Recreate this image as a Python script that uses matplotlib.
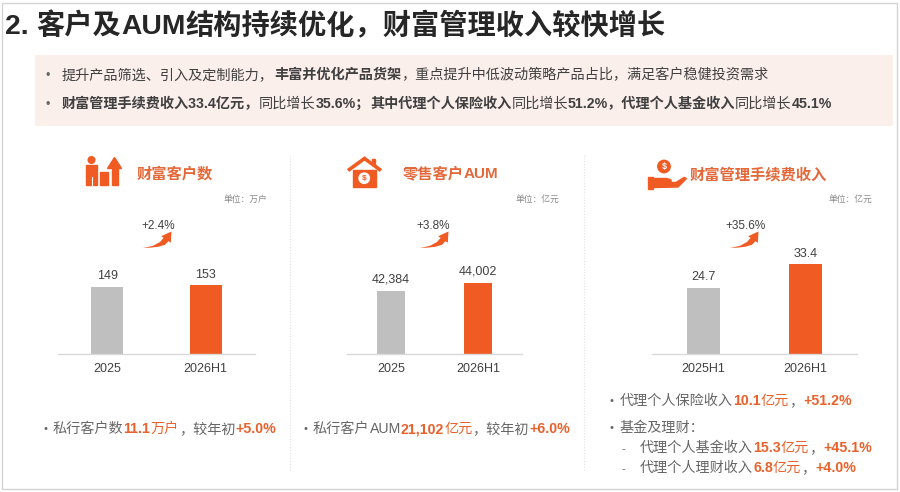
import matplotlib
matplotlib.use("Agg")
import matplotlib.pyplot as plt
from matplotlib.patches import Rectangle, Circle, Polygon

# ---- data ----
clients_labels = ["2025", "2026H1"]
clients_values = [149, 153]
clients_growth = "+2.4%"

aum_labels = ["2025", "2026H1"]
aum_values = [42384, 44002]
aum_growth = "+3.8%"

fee_labels = ["2025H1", "2026H1"]
fee_values = [24.7, 33.4]
fee_growth = "+35.6%"

W, H = 900, 492
FONT = ["Liberation Sans", "Noto Sans CJK SC", "DejaVu Sans"]
ORANGE = "#F05A23"
HEAD_ORANGE = "#E4693A"
NUM_ORANGE = "#E8622D"
GRAY_BAR = "#BFBFBF"
TXT = "#404040"
SOFT = "#666666"

fig = plt.figure(figsize=(W / 100, H / 100), dpi=100)
bg = fig.add_axes([0, 0, 1, 1])
bg.set_xlim(0, W)
bg.set_ylim(H, 0)
bg.axis("off")
renderer = fig.canvas.get_renderer()


def rich(x, y, parts, size):
    """Draw (text, colour, weight) pieces one after another on a baseline."""
    for text, color, weight in parts:
        t = bg.text(x, y, text, fontsize=size, color=color, fontweight=weight,
                    family=FONT, ha="left", va="baseline")
        x += t.get_window_extent(renderer=renderer).width
    return x


# frame and title
bg.add_patch(Rectangle((1.5, 2.5), 895.5, 486, fill=False, ec="#d4d4d4", lw=1))
rich(5, 34, [("2. ", "#262626", "bold"), ("客户及", "#262626", "bold"),
             ("AUM", "#262626", "bold"),
             ("结构持续优化，财富管理收入较快增长", "#262626", "bold")], 20.3)

# pink summary box
bg.add_patch(Rectangle((35, 55), 858, 71, fc="#fbefec", ec="none"))
bg.text(45, 79, "•", fontsize=9, color=SOFT, family=FONT, va="baseline")
rich(62, 79, [("提升产品筛选、引入及定制能力，", TXT, "normal"),
              ("丰富并优化产品货架", TXT, "bold"),
              ("，重点提升中低波动策略产品占比，满足客户稳健投资需求", TXT, "normal")], 10.2)
bg.text(45, 108, "•", fontsize=9, color=SOFT, family=FONT, va="baseline")
rich(62, 108, [("财富管理手续费收入33.4亿元，", TXT, "bold"),
               ("同比增长", TXT, "normal"), ("35.6%；", TXT, "bold"),
               ("其中代理个人保险收入", TXT, "bold"), ("同比增长", TXT, "normal"),
               ("51.2%，代理个人基金收入", TXT, "bold"), ("同比增长", TXT, "normal"),
               ("45.1%", TXT, "bold")], 10.2)

# panel separators
for xs in (290, 584):
    bg.plot([xs, xs], [155, 470], color="#e2e2e2", lw=0.8, ls=(0, (1, 1.5)))

# ---- icons ----
# people + bars + arrow
bg.add_patch(Circle((91.5, 160), 3.3, color=ORANGE))
bg.add_patch(Rectangle((86, 164.5), 11, 20.5, color=ORANGE))
bg.plot([91.5, 91.5], [177, 185], color="white", lw=0.8)
bg.add_patch(Rectangle((100, 172), 7.5, 13, color=ORANGE))
bg.add_patch(Rectangle((111.5, 167.5), 6.5, 17.5, color=ORANGE))
bg.add_patch(Polygon([(107.5, 168.5), (121.5, 168.5), (114.5, 157.5)], color=ORANGE))
# house with coin
bg.plot([348, 364.5, 381], [170.5, 158.5, 170.5], color=ORANGE, lw=2.6,
        solid_capstyle="butt", solid_joinstyle="miter")
bg.add_patch(Rectangle((372, 159), 3, 6, color=ORANGE))
bg.add_patch(Rectangle((352.5, 170), 23.5, 16.5, color=ORANGE))
bg.add_patch(Circle((364.2, 178.2), 5.2, color="white"))
bg.text(364.2, 178.4, "$", fontsize=6, color=ORANGE, fontweight="bold",
        family=FONT, ha="center", va="center")
# hand with coin
bg.add_patch(Circle((664, 166.5), 6.2, color=ORANGE))
bg.text(664, 166.8, "$", fontsize=6.5, color="white", fontweight="bold",
        family=FONT, ha="center", va="center")
bg.add_patch(Rectangle((647.5, 177), 5.5, 11.5, color=ORANGE))
bg.add_patch(Polygon([(654.5, 178.5), (667, 178.5), (671, 180), (671, 182),
                      (664, 182.5), (676, 182.5), (684, 177.5), (686.5, 178.5),
                      (678, 187), (654.5, 187.5)], color=ORANGE))

# panel headings and units
rich(137, 178.5, [("财富客户数", HEAD_ORANGE, "bold")], 11)
rich(403, 178.5, [("零售客户", HEAD_ORANGE, "bold"), ("AUM", HEAD_ORANGE, "bold")], 11)
rich(690, 179.5, [("财富管理手续费收入", HEAD_ORANGE, "bold")], 11)
for xr, unit in ((267, "单位：万户"), (559, "单位：亿元"), (872, "单位：亿元")):
    bg.text(xr, 202, unit, fontsize=6.3, color="#8a8a8a", family=FONT,
            ha="right", va="baseline")


def swoosh(x0, yb):
    pts = [(0, 0), (8, -0.4), (15, -1.2), (22, -3.2), (25.4, -6.85), (27.8, -5.2),
           (28.5, -16.5), (18.2, -11.8), (20.6, -10.15), (17, -6), (10, -2.2)]
    bg.add_patch(Polygon([(x0 + dx, yb + dy) for dx, dy in pts], color=ORANGE, lw=0))


for xc, x0, g in ((158, 143, clients_growth), (433, 420, aum_growth), (746, 730, fee_growth)):
    bg.text(xc, 229, g, fontsize=8.5, color=TXT, family=FONT, ha="center", va="baseline")
    swoosh(x0, 248)

# ---- bar panels ----
BASE_Y = 354.3
AX_H = 130


def bar_panel(left, right, labels, values, ymin, k, fmt):
    ax = fig.add_axes([left / W, (H - BASE_Y) / H, (right - left) / W, AX_H / H])
    ax.patch.set_alpha(0)
    xs = range(len(values))
    ax.bar(xs, values, width=0.32, color=[GRAY_BAR, ORANGE])
    ax.set_xlim(-0.5, 1.5)
    ax.set_ylim(ymin, ymin + AX_H / k)
    for s in ("top", "left", "right"):
        ax.spines[s].set_visible(False)
    ax.spines["bottom"].set_color("#d9d9d9")
    ax.spines["bottom"].set_linewidth(1)
    ax.set_yticks([])
    ax.set_xticks(list(xs), labels, fontsize=9, color=TXT, family=FONT)
    ax.tick_params(axis="x", length=0, pad=6)
    for x, v in zip(xs, values):
        ax.annotate(fmt(v), (x, v), xytext=(0, 3.5), textcoords="offset points",
                    ha="center", va="bottom", fontsize=9, color=TXT, family=FONT)


bar_panel(58, 255, clients_labels, clients_values, 0, 0.45, lambda v: f"{v}")
bar_panel(347, 522, aum_labels, aum_values, 29500, 0.00494, lambda v: f"{v:,}")
bar_panel(652, 857, fee_labels, fee_values, 0, 2.69, lambda v: f"{v:.1f}")

# ---- notes under the panels ----
bg.text(43, 432, "•", fontsize=8, color=SOFT, family=FONT, va="baseline")
rich(53, 433, [("私行客户数", SOFT, "normal"), ("11.1", NUM_ORANGE, "bold"),
               ("万户", NUM_ORANGE, "normal"), ("，较年初", SOFT, "normal"),
               ("+5.0%", NUM_ORANGE, "bold")], 10.2)
bg.text(304, 432, "•", fontsize=8, color=SOFT, family=FONT, va="baseline")
rich(313, 433, [("私行客户", SOFT, "normal"), ("AUM", SOFT, "normal"),
                ("21,102", NUM_ORANGE, "bold"), ("亿元", NUM_ORANGE, "normal"),
                ("，较年初", SOFT, "normal"), ("+6.0%", NUM_ORANGE, "bold")], 10.2)
bg.text(610, 404, "•", fontsize=8, color=SOFT, family=FONT, va="baseline")
rich(620, 405, [("代理个人保险收入", SOFT, "normal"), ("10.1", NUM_ORANGE, "bold"),
                ("亿元", NUM_ORANGE, "normal"), ("，", SOFT, "normal"),
                ("+51.2%", NUM_ORANGE, "bold")], 10.2)
bg.text(610, 431, "•", fontsize=8, color=SOFT, family=FONT, va="baseline")
rich(620, 432, [("基金及理财：", SOFT, "normal")], 10.2)
for yb, parts in ((452, [("代理个人基金收入", SOFT, "normal"), ("15.3", NUM_ORANGE, "bold"),
                         ("亿元", NUM_ORANGE, "normal"), ("，", SOFT, "normal"),
                         ("+45.1%", NUM_ORANGE, "bold")]),
                  (472, [("代理个人理财收入", SOFT, "normal"), ("6.8", NUM_ORANGE, "bold"),
                         ("亿元", NUM_ORANGE, "normal"), ("，", SOFT, "normal"),
                         ("+4.0%", NUM_ORANGE, "bold")])):
    bg.text(622, yb, "-", fontsize=8, color=SOFT, family=FONT, va="baseline")
    rich(640, yb, parts, 10.2)

fig.savefig("out.png", dpi=100)
